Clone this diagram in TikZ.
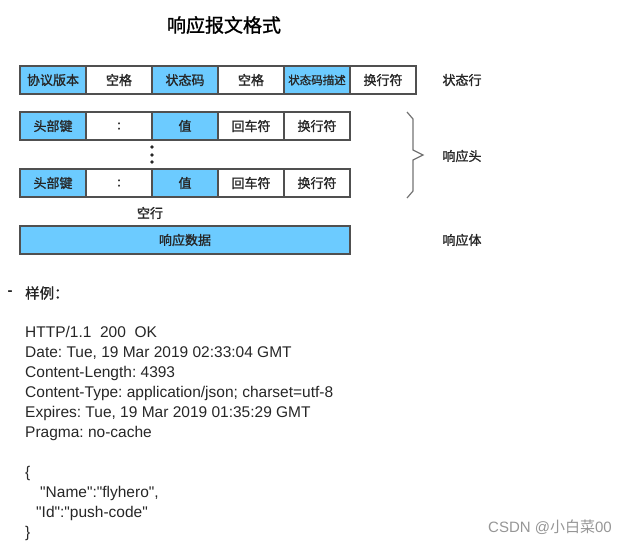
\documentclass[tikz,border=0pt]{standalone}
\usepackage{fontspec}
\newfontfamily\cjk{Noto Sans CJK SC}
\newfontfamily\cjkb[FakeBold=1.2]{Noto Sans CJK SC}
\newfontfamily\codefont{Liberation Sans}
\usetikzlibrary{positioning}
\definecolor{keyblue}{RGB}{108,203,255}
\definecolor{edgegray}{RGB}{80,80,80}
\definecolor{markgray}{RGB}{150,150,150}
\tikzset{
  cell/.style={draw=edgegray, line width=1.1pt, minimum width=66pt, minimum height=28pt,
    inner sep=0pt, text=black!85, font=\cjkb\fontsize{13}{13}\selectfont},
  tag/.style={text=black!85, font=\cjkb\fontsize{13}{13}\selectfont},
}

\begin{document}
\begin{tikzpicture}[x=1pt,y=-1pt]
\useasboundingbox (0,0) rectangle (633,544);
\node[font=\cjkb\fontsize{19}{19}\selectfont] (title) at (224,25) {响应报文格式};
% status line
\foreach \t/\c [count=\i] in {协议版本/keyblue,空格/white,状态码/keyblue,空格/white,{\fontsize{11.5}{11.5}\selectfont 状态码描述}/keyblue,换行符/white}
  \node[cell,fill=\c] (st\i) at ({20+66*(\i-0.5)},80) {\t};
% header lines
\foreach \y/\n in {126/hd,183/hl}
  \foreach \t/\c [count=\i] in {头部键/keyblue,:/white,值/keyblue,回车符/white,换行符/white}
    \node[cell,fill=\c] (\n\i) at ({20+66*(\i-0.5)},\y) {\t};
\foreach \y in {147,155,162}
  \fill[black!85] (152,\y) circle (1.8pt);
\node[tag] (blank) at (150,213) {空行};
\node[cell,fill=keyblue,minimum width=330pt] (body) at (185,240) {响应数据};
% brace
\draw[edgegray!80,line width=1.2pt] (407,112) -- (413,119) -- (413,150) -- (423,155)
  -- (413,160) -- (413,191) -- (407,198);
\node[tag] (lstatus) at (462,80) {状态行};
\node[tag] (lhead) at (462,156) {响应头};
\node[tag] (lbody) at (462,240) {响应体};
% sample
\node[tag,font=\codefont\bfseries\fontsize{15}{15}\selectfont] (dash) at (10,293) {-};
\node[tag,font=\cjkb\fontsize{14.5}{14.5}\selectfont,anchor=west,inner sep=0pt] (sample) at (25,293) {样例：};
\node[font=\codefont\fontsize{15.5}{20}\selectfont\frenchspacing,text=black!85,align=left,anchor=north west,inner sep=0pt] (code) at (25,326)
  {HTTP/1.1\ \ 200\ \ OK\\
   Date: Tue, 19 Mar 2019 02:33:04 GMT\\
   Content-Length: 4393\\
   Content-Type: application/json; charset=utf-8\\
   Expires: Tue, 19 Mar 2019 01:35:29 GMT\\
   Pragma: no-cache\\[20pt]
   \{\\
   \hspace*{15pt}"Name":"flyhero",\\
   \hspace*{11pt}"Id":"push-code"\\
   \}};
\node[font=\fontsize{15}{15}\selectfont,text=markgray] (mark) at (550,527)
  {\codefont CSDN @\cjk 小白菜\codefont 00};
\end{tikzpicture}
\end{document}
